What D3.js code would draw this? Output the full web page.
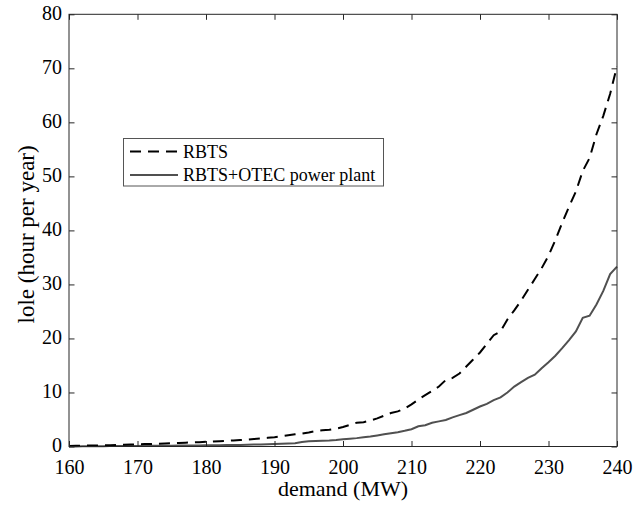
<!DOCTYPE html>
<html>
<head>
<meta charset="utf-8">
<script src="https://cdn.jsdelivr.net/npm/d3@7"></script>
<style>
  html, body { margin: 0; padding: 0; background: #fff; }
  svg text { font-family: "Liberation Serif", "Times New Roman", "DejaVu Serif", serif; }
</style>
</head>
<body>
<svg id="chart" width="642" height="505"></svg>
<script>
// ---- data ----
const demand = d3.range(160, 241); // MW, 1 MW steps
const rbts = [0.1,0.12,0.15,0.18,0.2,0.22,0.25,0.28,0.32,0.36,
  0.4,0.44,0.48,0.52,0.56,0.6,0.65,0.7,0.75,0.8,
  0.86,0.92,0.98,1.05,1.12,1.2,1.28,1.38,1.48,1.6,
  1.72,1.9,2.1,2.25,2.4,2.6,2.85,3.0,3.1,3.3,
  3.6,4.0,4.4,4.5,4.8,5.2,5.7,6.2,6.5,7.0,
  7.8,8.7,9.5,10.3,11.1,12.3,12.7,13.5,14.8,16.1,
  17.4,19.0,20.6,21.3,23.5,25.2,27.0,29.0,31.0,33.0,
  35.3,38.2,41.4,44.4,47.2,51.0,53.4,57.8,61.2,65.3,70.4];
const rbtsOtec = [0.0,0.02,0.03,0.04,0.05,0.06,0.07,0.08,0.09,0.1,
  0.11,0.12,0.13,0.14,0.15,0.16,0.17,0.18,0.19,0.2,
  0.21,0.22,0.24,0.26,0.28,0.3,0.33,0.36,0.39,0.42,
  0.46,0.5,0.55,0.6,0.85,0.95,1.0,1.05,1.1,1.2,
  1.33,1.45,1.55,1.7,1.85,2.05,2.25,2.45,2.65,2.9,
  3.2,3.75,3.95,4.4,4.65,4.9,5.4,5.8,6.2,6.8,
  7.4,7.9,8.6,9.1,10.0,11.1,11.9,12.7,13.3,14.5,
  15.6,16.8,18.2,19.7,21.3,23.8,24.2,26.3,28.8,31.9,33.3];
const xTicks = [160,170,180,190,200,210,220,230,240];
const yTicks = [0,10,20,30,40,50,60,70,80];
const seriesNames = ["RBTS", "RBTS+OTEC power plant"];
const xLabel = "demand (MW)";
const yLabel = "lole (hour per year)";

// ---- layout ----
const svg = d3.select("#chart");
const L = 69, R = 617, T = 14.3, B = 446.5;
const x = d3.scaleLinear().domain([160, 240]).range([L, R]);
const y = d3.scaleLinear().domain([0, 80]).range([B, T]);
const axisColor = "#262626";
const tickLen = 5.5;
const serif = '"Liberation Serif", "Times New Roman", "DejaVu Serif", serif';

// series
const line = d3.line().x(d => x(d[0])).y(d => y(d[1]));
const s1 = demand.map((d, i) => [d, rbts[i]]);
const s2 = demand.map((d, i) => [d, rbtsOtec[i]]);

svg.append("path").datum(s2)
  .attr("d", line).attr("fill", "none")
  .attr("stroke", "#505050").attr("stroke-width", 2);
svg.append("path").datum(s1)
  .attr("d", line).attr("fill", "none")
  .attr("stroke", "#000").attr("stroke-width", 2)
  .attr("stroke-dasharray", "11,7");

// axes (ticks inward, box)
function styleAxis(g) {
  g.attr("font-family", null);
  g.select(".domain").remove();
  g.selectAll(".tick line").attr("stroke", axisColor).attr("stroke-width", 1);
  g.selectAll(".tick text").attr("fill", "#000")
    .style("font-family", serif)
    .style("font-size", "20px");
}
const xAxis = svg.append("g").attr("transform", `translate(0,${B})`)
  .call(d3.axisBottom(x).tickValues(xTicks).tickFormat(d3.format("d"))
    .tickSizeInner(-tickLen).tickSizeOuter(0).tickPadding(13.5));
styleAxis(xAxis);

const xAxisTop = svg.append("g").attr("transform", `translate(0,${T})`)
  .call(d3.axisTop(x).tickValues(xTicks).tickFormat("")
    .tickSizeInner(-tickLen).tickSizeOuter(0));
styleAxis(xAxisTop);

const yAxis = svg.append("g").attr("transform", `translate(${L},0)`)
  .call(d3.axisLeft(y).tickValues(yTicks).tickFormat(d3.format("d"))
    .tickSizeInner(-tickLen).tickSizeOuter(0).tickPadding(7));
styleAxis(yAxis);
yAxis.selectAll(".tick text").attr("dy", "0.26em");

const yAxisRight = svg.append("g").attr("transform", `translate(${R},0)`)
  .call(d3.axisRight(y).tickValues(yTicks).tickFormat("")
    .tickSizeInner(-tickLen).tickSizeOuter(0));
styleAxis(yAxisRight);

// box
svg.append("rect").attr("x", L).attr("y", T)
  .attr("width", R - L).attr("height", B - T)
  .attr("fill", "none").attr("stroke", axisColor).attr("stroke-width", 1);

// axis labels
svg.append("text").attr("x", (L + R) / 2).attr("y", 496)
  .attr("text-anchor", "middle").style("font-size", "22px").attr("fill", "#000")
  .text(xLabel);
svg.append("text")
  .attr("transform", `translate(34,${(T + B) / 2 + 4}) rotate(-90)`)
  .attr("text-anchor", "middle").style("font-size", "23px").attr("fill", "#000")
  .text(yLabel);

// legend
const lg = svg.append("g");
lg.append("rect").attr("x", 123.5).attr("y", 138.5).attr("width", 260).attr("height", 47.5)
  .attr("fill", "#fff").attr("stroke", "#555").attr("stroke-width", 1);
const rows = [
  { name: seriesNames[0], color: "#000", dash: "11,7", yy: 151.5 },
  { name: seriesNames[1], color: "#505050", dash: null, yy: 175 }
];
rows.forEach(r => {
  lg.append("line").attr("x1", 130).attr("x2", 178).attr("y1", r.yy).attr("y2", r.yy)
    .attr("stroke", r.color).attr("stroke-width", 2)
    .attr("stroke-dasharray", r.dash);
  lg.append("text").attr("x", 183).attr("y", r.yy).attr("dy", "0.35em")
    .style("font-size", "18px").attr("fill", "#000").text(r.name);
});
</script>
</body>
</html>
